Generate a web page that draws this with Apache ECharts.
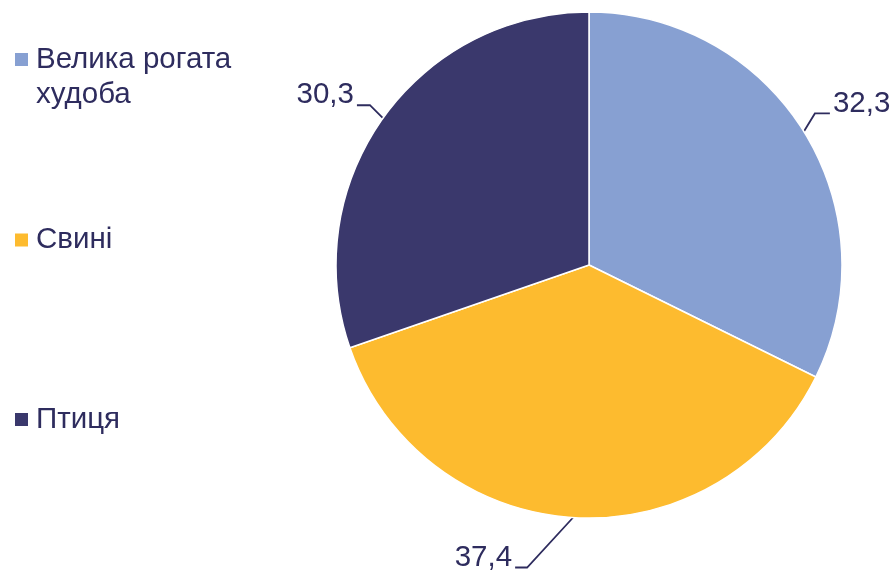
<html lang="uk">
<head>
  <meta charset="UTF-8">
  <title>Структура</title>
  <style>
    body { margin: 0; background: #fff; }
    #chart { width: 895px; height: 570px; }
  </style>
</head>
<body>
  <div id="chart"></div>
  <script src="https://cdn.jsdelivr.net/npm/echarts@6/dist/echarts.min.js"></script>
  <script>
    // дані
    const names = ['Велика рогата\nхудоба', 'Свині', 'Птиця']
    const values = [32.3, 37.4, 30.3]
    const colors = ['#87a0d2', '#fdbb2f', '#3a386c']

    const textColor = '#2e2c5e'
    const font = 'Liberation Sans, Arial, sans-serif'

    // зсуви ліній підписів (колінце та кінець) від краю сектора
    const lineTweaks = [
      { dx: 11, dy: -18, len: 15 },
      { dx: -46, dy: 50, len: -12 },
      { dx: -13, dy: -13, len: -13 }
    ]

    const legendTops = [7, 222.5, 402]
    const legends = names.map((n, i) => ({
      orient: 'vertical',
      left: 15,
      top: legendTops[i],
      padding: 0,
      itemWidth: 13,
      itemHeight: 13,
      icon: 'rect',
      itemStyle: { borderWidth: 0 },
      data: [n],
      // перший рядок назви — на рівні маркера
      formatter: name => name.includes('\n') ? ' \n' + name : name,
      textStyle: {
        color: textColor,
        fontFamily: font,
        fontSize: 29.5,
        lineHeight: 35,
        padding: [0, 0, 0, 3]
      }
    }))

    const chart = echarts.init(document.getElementById('chart'))
    chart.setOption({
      animation: false,
      legend: legends,
      series: [{
        type: 'pie',
        center: [589, 265],
        radius: 253,
        startAngle: 90,
        clockwise: true,
        itemStyle: { borderColor: '#fff', borderWidth: 1.5 },
        label: {
          show: true,
          color: textColor,
          fontFamily: font,
          fontSize: 29.5,
          width: 70,
          formatter: p => String(p.value).replace('.', ',')
        },
        labelLine: {
          show: true,
          length: 20,
          length2: 10,
          lineStyle: { color: textColor, width: 1.8 }
        },
        labelLayout: params => {
          const t = lineTweaks[params.dataIndex]
          const s = params.labelLinePoints[0]
          const elbow = [s[0] + t.dx, s[1] + t.dy]
          const end = [elbow[0] + t.len, elbow[1]]
          const right = t.len > 0
          return {
            x: end[0] + (right ? 3 : -3),
            y: elbow[1] - 10,
            align: right ? 'left' : 'right',
            verticalAlign: 'middle',
            labelLinePoints: [s, elbow, end]
          }
        },
        data: names.map((n, i) => ({ name: n, value: values[i], itemStyle: { color: colors[i] } }))
      }]
    })
  </script>
</body>
</html>
